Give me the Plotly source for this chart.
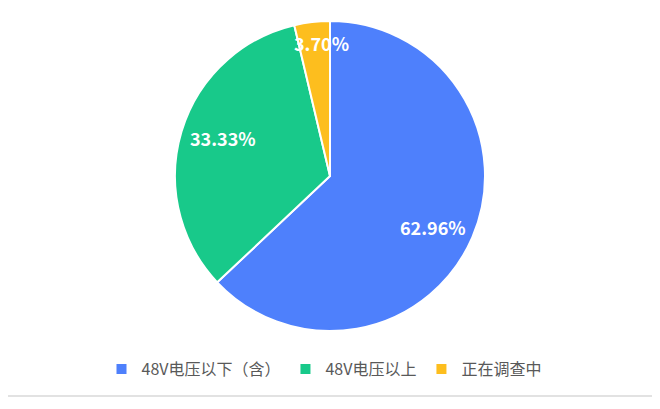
import math
import plotly.graph_objects as go

# shares (in %)
labels = ['48V电压以下（含）', '48V电压以上', '正在调查中']
values = [62.96, 33.33, 3.70]
colors = ['#4E80FC', '#18C98A', '#FDBE1E']
# how far out (fraction of radius) each value label sits
label_r = [0.74, 0.73, 0.86]
label_turn = 3  # degrees, labels sit a little clockwise of the slice middle

# the page body has an 8px margin, so the figure is laid out in page coords minus 8
OFF = 8
W, H = 660 - OFF, 409 - 2 * OFF
cx, cy, R = 330 - OFF, 176 - OFF, 155

fig = go.Figure()
fig.add_trace(go.Pie(
    labels=labels,
    values=values,
    sort=False,
    direction='clockwise',
    rotation=0,
    marker=dict(colors=colors, line=dict(color='white', width=2)),
    textinfo='none',
    hoverinfo='label+percent',
    domain=dict(x=[(cx - R) / W, (cx + R) / W], y=[1 - (cy + R) / H, 1 - (cy - R) / H]),
))

# value labels: placed round the middle angle of each slice
total = sum(values)
start = 0
annotations = []
for v, f in zip(values, label_r):
    mid = math.radians((start + v / 2) / total * 360 + label_turn)
    start += v
    px_ = cx + f * R * math.sin(mid)
    py_ = cy - f * R * math.cos(mid)
    annotations.append(dict(
        x=px_ / W, y=1 - py_ / H, xref='paper', yref='paper',
        xanchor='center', yanchor='middle',
        text=f'<b>{v:.2f}%</b>', showarrow=False,
        font=dict(color='white', size=18, family='Noto Sans CJK SC'),
    ))

fig.update_layout(
    width=W, height=H,
    margin=dict(l=0, r=0, t=0, b=0),
    paper_bgcolor='white',
    plot_bgcolor='white',
    font=dict(family='Noto Sans CJK SC', color='#595959'),
    showlegend=True,
    legend=dict(
        orientation='h',
        x=(cx - 6) / W, xanchor='center',
        y=1 - (369 - OFF) / H, yanchor='middle',
        font=dict(size=16, color='#595959', family='Noto Sans CJK SC'),
        itemwidth=30,
        traceorder='normal',
    ),
    annotations=annotations,
    # thin grey frame round the picture
    shapes=[dict(type='rect', xref='paper', yref='paper',
                 x0=-0.01, x1=(658 - OFF) / W, y0=1 - (396 - OFF) / H, y1=1.01,
                 line=dict(color='#D9D9D9', width=1.5))],
)

fig.write_html("out.html")
